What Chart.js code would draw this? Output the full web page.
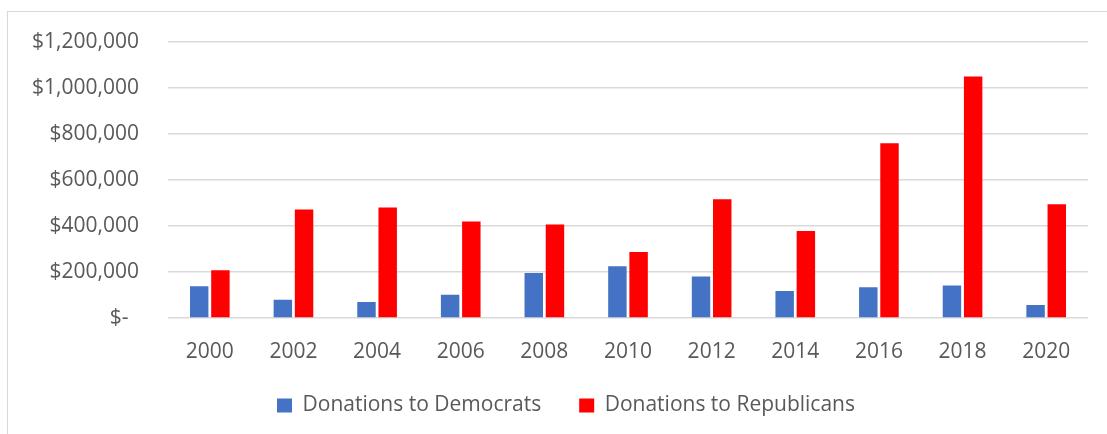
<!DOCTYPE html>
<html>
<head>
<meta charset="utf-8">
<script src="https://cdn.jsdelivr.net/npm/chart.js@4"></script>
<style>
  html, body { margin: 0; padding: 0; background: #fff; }
  body { width: 1107px; height: 434px; position: relative; overflow: hidden; }
  #frame { position: absolute; left: 7px; top: 11px; width: 1200px; height: 500px; border: 1px solid #d9d9d9; box-sizing: border-box; }
  #wrap { position: absolute; left: 0; top: 0; width: 1107px; height: 434px; }
</style>
</head>
<body>
<div id="frame"></div>
<div id="wrap"><canvas id="c" width="1107" height="434"></canvas></div>
<script>
const years = ["2000","2002","2004","2006","2008","2010","2012","2014","2016","2018","2020"];
const democrats = [138000, 79000, 69000, 101000, 195000, 225000, 180000, 117000, 133000, 141000, 56000];
const republicans = [207000, 471000, 480000, 419000, 406000, 287000, 516000, 378000, 759000, 1049000, 494000];
const seriesNames = ["Donations to Democrats", "Donations to Republicans"];
const yTicks = [0, 200000, 400000, 600000, 800000, 1000000, 1200000];

const FONT = "'Open Sans', sans-serif";
const TEXT = "#595959";
const GRID = "#d9d9d9";

const legendShift = {
  id: 'legendShift',
  afterLayout(chart) {
    const l = chart.legend;
    if (!l) return;
    const dx = 7, dy = -8;
    l.left += dx; l.right += dx; l.top += dy; l.bottom += dy;
  }
};

new Chart(document.getElementById('c'), {
  type: 'bar',
  data: {
    labels: years,
    datasets: [
      { label: seriesNames[0], data: democrats, backgroundColor: '#4472C4', categoryPercentage: 0.507, barPercentage: 0.87 },
      { label: seriesNames[1], data: republicans, backgroundColor: '#FF0000', categoryPercentage: 0.507, barPercentage: 0.87 }
    ]
  },
  plugins: [legendShift],
  options: {
    responsive: false,
    animation: false,
    events: [],
    layout: { padding: { left: 30, right: 19, top: 40, bottom: 0 } },
    plugins: {
      tooltip: { enabled: false },
      legend: {
        position: 'bottom',
        labels: {
          font: { family: FONT, size: 21 },
          color: TEXT,
          boxWidth: 15,
          boxHeight: 14,
          padding: 38
        }
      }
    },
    scales: {
      x: {
        grid: { display: false, drawTicks: false },
        border: { display: false },
        ticks: { font: { family: FONT, size: 21 }, color: TEXT, padding: 21, maxRotation: 0 },
        afterFit(scale) { scale.height = 47; }
      },
      y: {
        min: 0,
        max: 1200000,
        afterBuildTicks(scale) { scale.ticks = yTicks.map(v => ({ value: v })); },
        grid: { color: GRID, lineWidth: 1.5, drawTicks: false },
        border: { display: false },
        ticks: {
          font: { family: FONT, size: 21 },
          color: TEXT,
          padding: 29,
          callback(v) { return v === 0 ? "$-\u2002" : "$" + Number(v).toLocaleString('en-US'); }
        },
        afterFit(scale) { scale.width = 138; }
      }
    }
  }
});
</script>
</body>
</html>
